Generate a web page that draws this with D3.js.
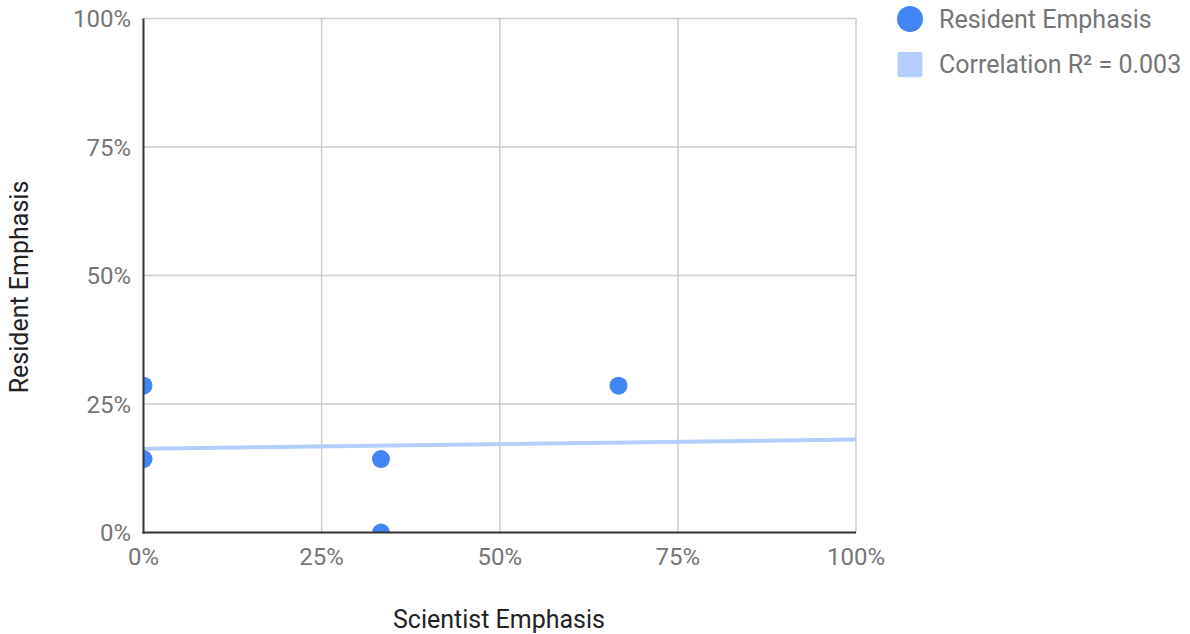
<!DOCTYPE html>
<html><head><meta charset="utf-8">
<script src="https://cdn.jsdelivr.net/npm/d3@7"></script>
<style>body{margin:0;background:#fff}svg{display:block;font-family:Roboto,Arial,sans-serif}</style>
</head><body><svg id="c" width="1190" height="634"></svg>
<script>
const scientistEmphasis = [0, 0, 0.3333, 0.3333, 0.6667];
const residentEmphasis = [0.2857, 0.1429, 0.1429, 0, 0.2857];
const trendX = [0, 1];
const trendY = [0.163, 0.181];
const tickValues = [0, 0.25, 0.5, 0.75, 1];
const seriesName = "Resident Emphasis";
const trendName = "Correlation R\u00B2 = 0.003";
const xTitle = "Scientist Emphasis";
const yTitle = "Resident Emphasis";

const svg = d3.select("#c");
const L = 143.5, R = 856, T = 18.5, B = 532.5;
const x = d3.scaleLinear().domain([0, 1]).range([L, R]);
const y = d3.scaleLinear().domain([0, 1]).range([B, T]);
const fmt = d3.format(".0%");

svg.append("defs").append("clipPath").attr("id", "plotclip")
  .append("rect").attr("x", L).attr("y", T).attr("width", R - L).attr("height", B - T);

// gridlines
svg.append("g").selectAll("line.v").data(tickValues.slice(1)).join("line")
  .attr("x1", d => x(d)).attr("x2", d => x(d)).attr("y1", T).attr("y2", B)
  .attr("stroke", "#cccccc").attr("stroke-width", 1.5);
svg.append("g").selectAll("line.h").data(tickValues.slice(1)).join("line")
  .attr("x1", L).attr("x2", R).attr("y1", d => y(d)).attr("y2", d => y(d))
  .attr("stroke", "#cccccc").attr("stroke-width", 1.5);

// trendline
svg.append("line")
  .attr("x1", x(trendX[0])).attr("y1", y(trendY[0]))
  .attr("x2", x(trendX[1])).attr("y2", y(trendY[1]))
  .attr("stroke", "#b3cefb").attr("stroke-width", 4);

// points (clipped to the plot area)
svg.append("g").attr("clip-path", "url(#plotclip)").selectAll("circle")
  .data(scientistEmphasis.map((d, i) => [d, residentEmphasis[i]])).join("circle")
  .attr("cx", d => x(d[0])).attr("cy", d => y(d[1])).attr("r", 9).attr("fill", "#4285f4");

// axes lines
svg.append("line").attr("x1", L).attr("x2", L).attr("y1", T).attr("y2", B + 1)
  .attr("stroke", "#333").attr("stroke-width", 2);
svg.append("line").attr("x1", L - 1).attr("x2", R).attr("y1", B).attr("y2", B)
  .attr("stroke", "#333").attr("stroke-width", 2);

// tick labels
svg.append("g").selectAll("text").data(tickValues).join("text")
  .attr("x", 131).attr("y", d => y(d) + 8.5).attr("text-anchor", "end")
  .attr("font-size", 24).attr("fill", "#757575").text(fmt);
svg.append("g").selectAll("text").data(tickValues).join("text")
  .attr("x", d => x(d)).attr("y", 565).attr("text-anchor", "middle")
  .attr("font-size", 24).attr("fill", "#757575").text(fmt);

// titles
svg.append("text").attr("x", 499).attr("y", 628).attr("text-anchor", "middle")
  .attr("font-size", 25).attr("fill", "#222").text(xTitle);
svg.append("text").attr("transform", "translate(28,287) rotate(-90)").attr("text-anchor", "middle")
  .attr("font-size", 25).attr("fill", "#222").text(yTitle);

// legend
svg.append("circle").attr("cx", 910).attr("cy", 19).attr("r", 13).attr("fill", "#4285f4");
svg.append("text").attr("x", 939).attr("y", 27.5).attr("font-size", 25).attr("fill", "#757575").text(seriesName);
svg.append("rect").attr("x", 897.5).attr("y", 52).attr("width", 25).attr("height", 25).attr("rx", 2)
  .attr("fill", "#b3cefb");
svg.append("text").attr("x", 939).attr("y", 73).attr("font-size", 25).attr("fill", "#757575").text(trendName);
</script></body></html>
